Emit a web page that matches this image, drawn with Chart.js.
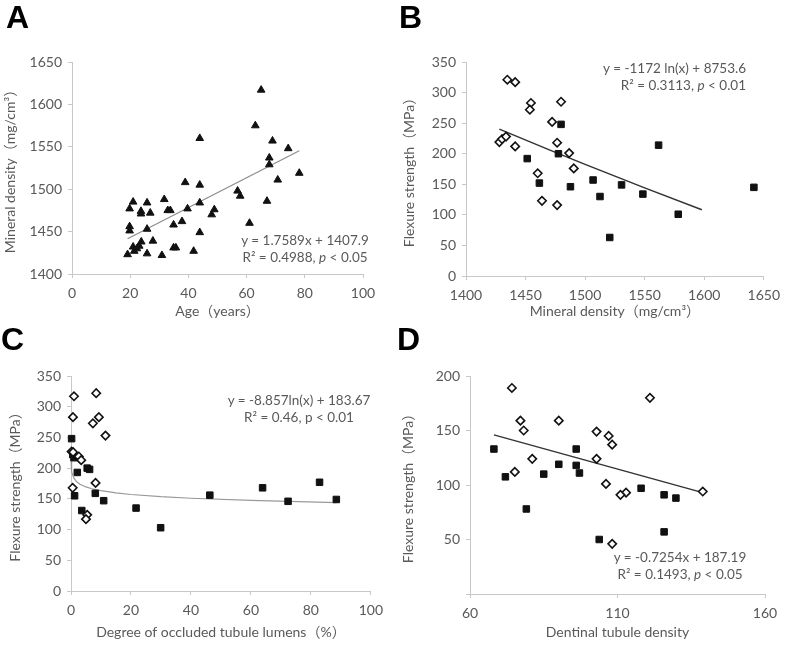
<!DOCTYPE html>
<html>
<head>
<meta charset="utf-8">
<script src="https://cdn.jsdelivr.net/npm/chart.js@4.4.0/dist/chart.umd.min.js"></script>
<style>
  body { margin: 0; background: #fff; width: 787px; height: 645px; position: relative; overflow: hidden; }
  .panel { position: absolute; }
  .letter { position: absolute; font: bold 32px "Liberation Sans", Arial, sans-serif; line-height: 32px; color: #000; }
  .note { position: absolute; font: 13.5px Lato, "Noto Sans CJK SC", sans-serif; line-height: 17px; color: #595959; white-space: nowrap; text-align: center; }
</style>
</head>
<body>

<canvas class="panel" id="chartA" width="390" height="320" style="left:0;top:0"></canvas>
<canvas class="panel" id="chartB" width="397" height="320" style="left:390px;top:0"></canvas>
<canvas class="panel" id="chartC" width="390" height="325" style="left:0;top:320px"></canvas>
<canvas class="panel" id="chartD" width="397" height="325" style="left:390px;top:320px"></canvas>

<div class="letter" style="left:6px;top:1px">A</div>
<div class="letter" style="left:399px;top:1px">B</div>
<div class="letter" style="left:1px;top:323px">C</div>
<div class="letter" style="left:397px;top:323px">D</div>

<div class="note" style="left:236px;top:232px;width:138px">y = 1.7589x + 1407.9<br>R² = 0.4988, <i>p</i> &lt; 0.05</div>
<div class="note" style="left:590px;top:60px;width:156px;text-align:right">y = -1172 ln(x) + 8753.6<br>R² = 0.3113, <i>p</i> &lt; 0.01</div>
<div class="note" style="left:222px;top:392px;width:154px">y = -8.857ln(x) + 183.67<br>R² = 0.46, p &lt; 0.01</div>
<div class="note" style="left:600px;top:549px;width:160px">y = -0.7254x + 187.19<br>R² = 0.1493, <i>p</i> &lt; 0.05</div>

<script>
// ---------------------------------------------------------------------------
// DATA
// ---------------------------------------------------------------------------

// A: age vs mineral density
const ageA = [65, 63, 68.9, 67.8, 67.8, 70.7, 67, 43.9, 38.9, 43.9, 56.9, 57.8, 61, 43.9, 39.7,
  48.9, 48, 43.9, 41.8, 37.8, 34.9, 31.7, 32.9, 33.8, 34.9, 35.7, 30.9, 27.8, 25.8, 25.8, 26.9,
  23.7, 23.7, 21, 19.8, 19.8, 19.8, 19.1, 21, 21.4, 22.3, 23.1, 23.8, 25.8, 74.3, 78.1];
const densityA = [1617, 1575, 1557, 1537, 1529, 1511, 1486, 1560, 1508, 1505, 1498, 1492, 1460, 1484, 1477,
  1476, 1470, 1449, 1427, 1462, 1458, 1488, 1475, 1475, 1431, 1431, 1422, 1439, 1453, 1484, 1472,
  1474, 1471, 1485, 1477, 1456, 1451, 1423, 1432, 1427, 1430, 1433, 1438, 1424, 1548, 1519];
const trendAx = [19.1, 78.1];
const trendAy = [1441.5, 1545.3];

// B: mineral density vs flexure strength
const densityBOpen = [1434.7, 1441.3, 1454.5, 1453.6, 1479.8, 1472.3, 1428, 1430.3, 1433.6, 1441.3,
  1476.5, 1486.6, 1490.5, 1460.2, 1463.8, 1476.5];
const strengthBOpen = [321, 317, 283, 272, 285, 252, 219, 224, 228, 212, 218, 201, 176, 168, 123, 116];
const densityBSolid = [1479.8, 1451.4, 1477.6, 1461.6, 1487.7, 1506.7, 1512.5, 1530.6, 1520.7,
  1548.5, 1561.7, 1578.2, 1641.7];
const strengthBSolid = [248, 192, 200, 152, 146, 157, 130, 149, 63, 134, 214, 101, 145];
const trendBx = [1428, 1470, 1500, 1550, 1598];
const trendBy = [240.2, 206.2, 182.5, 144.1, 108.3];

// C: degree of occluded tubule lumens vs flexure strength
const occludedCOpen = [1.0, 8.4, 0.66, 9.3, 7.3, 11.5, 0.2, 0.7, 2.6, 3.4, 0.55, 8.2, 5.4, 5.0];
const strengthCOpen = [317, 322, 283, 283, 273, 253, 227, 226, 219, 213, 168, 176, 124, 117];
const occludedCSolid = [0.2, 1.0, 0.6, 2.1, 5.4, 6.2, 1.2, 8.1, 10.9, 3.6, 21.7, 29.9, 46.3, 63.9, 72.4, 82.9, 88.5];
const strengthCSolid = [248, 217, 222, 193, 200, 198, 155, 159, 147, 131, 135, 103, 156, 168, 146, 177, 149];
const trendCx = [0.03, 0.1, 0.3, 0.6, 1, 1.5, 2, 3, 5, 7, 10, 15, 20, 30, 40, 60, 88.5];
const trendCy = [214.7, 204.1, 194.3, 188.2, 183.7, 180.1, 177.5, 173.9, 169.4, 166.4, 163.3, 159.7,
  157.1, 153.5, 151.0, 147.4, 144.0];

// D: dentinal tubule density vs flexure strength
const tubuleDOpen = [74.2, 121, 77.1, 90.1, 78.2, 102.9, 107, 108.2, 81.1, 102.9, 75.2, 106.1, 112.9, 111, 138.9, 108.2];
const strengthDOpen = [189, 180, 159, 159, 150, 149, 145, 137, 124, 124, 112, 101, 93, 91, 94, 46];
const tubuleDSolid = [68.1, 96, 90.1, 96, 97.1, 85, 72, 118, 125.8, 129.8, 79.1, 125.8, 103.8];
const strengthDSolid = [133, 133, 119, 118, 111, 110, 107.5, 97, 91, 88, 78, 57, 50];
const trendDx = [68.1, 138.9];
const trendDy = [146, 93];

// ---------------------------------------------------------------------------
// STYLE
// ---------------------------------------------------------------------------
const FONT = 'Lato, "Noto Sans CJK SC", sans-serif';
const TEXT_COLOR = '#595959';
const AXIS_COLOR = '#c8c8c8';

function zip(xs, ys) {
  return xs.map((x, i) => ({ x: x, y: ys[i] }));
}

function markerSet(xs, ys, style) {
  const open = style === 'rectRot';
  return {
    data: zip(xs, ys),
    pointStyle: style,
    pointRadius: style === 'rect' ? 4.6 : (style === 'triangle' ? 4.4 : 4.2),
    pointBackgroundColor: open ? '#ffffff' : '#111111',
    pointBorderColor: '#111111',
    pointBorderWidth: open ? 1.6 : 1,
    showLine: false,
    clip: false
  };
}

function trendSet(xs, ys, color, width) {
  return {
    data: zip(xs, ys),
    showLine: true,
    borderColor: color,
    borderWidth: width,
    pointRadius: 0,
    tension: 0,
    fill: false,
    clip: false
  };
}

function axisConfig(min, max, step, title, titlePad, boxSize, isY, hideZero) {
  return {
    type: 'linear',
    min: min,
    max: max,
    border: { display: true, color: AXIS_COLOR, width: 1 },
    grid: { display: true, drawOnChartArea: false, drawTicks: true, tickLength: 4, color: AXIS_COLOR },
    ticks: {
      stepSize: step,
      padding: isY ? 6 : 7,
      color: TEXT_COLOR,
      font: { family: FONT, size: 14 },
      maxRotation: 0,
      autoSkip: false,
      // panel D shows no "0" label on its y axis
      callback: v => (hideZero && v === 0) ? '' : String(v)
    },
    title: {
      display: true,
      text: title,
      color: TEXT_COLOR,
      font: { family: FONT, size: 14 },
      padding: isY ? { top: titlePad, bottom: 0 } : { top: 0, bottom: titlePad }
    },
    afterFit: function(scale) {
      if (isY) scale.width = boxSize;
      else scale.height = boxSize;
    }
  };
}

function makeChart(id, datasets, padding, xAxis, yAxis) {
  return new Chart(document.getElementById(id), {
    type: 'scatter',
    data: { datasets: datasets },
    options: {
      responsive: false,
      animation: false,
      layout: { padding: padding },
      plugins: { legend: { display: false }, tooltip: { enabled: false } },
      scales: { x: xAxis, y: yAxis }
    }
  });
}

// ---------------------------------------------------------------------------
// CHARTS
// ---------------------------------------------------------------------------
makeChart('chartA',
  [markerSet(ageA, densityA, 'triangle'), trendSet(trendAx, trendAy, '#8c8c8c', 1.2)],
  { left: 0, top: 62, right: 27, bottom: 0 },
  axisConfig(0, 100, 20, 'Age（years）', 0, 46, false),
  axisConfig(1400, 1650, 50, 'Mineral density（mg/cm³）', 2, 72, true));

makeChart('chartB',
  [markerSet(densityBOpen, strengthBOpen, 'rectRot'), markerSet(densityBSolid, strengthBSolid, 'rect'),
   trendSet(trendBx, trendBy, '#333333', 1.5)],
  { left: 0, top: 62, right: 19, bottom: 0 },
  axisConfig(1400, 1650, 50, 'Mineral density（mg/cm³）', 0, 44, false),
  axisConfig(0, 350, 50, 'Flexure strength（MPa）', 11, 76, true));

makeChart('chartC',
  [markerSet(occludedCOpen, strengthCOpen, 'rectRot'), markerSet(occludedCSolid, strengthCSolid, 'rect'),
   trendSet(trendCx, trendCy, '#999999', 1.2)],
  { left: 0, top: 56, right: 15, bottom: 0 },
  axisConfig(0, 100, 20, 'Degree of occluded tubule lumens（%）', 4, 54, false),
  axisConfig(0, 350, 50, 'Flexure strength（MPa）', 7, 71, true));

makeChart('chartD',
  [markerSet(tubuleDOpen, strengthDOpen, 'rectRot'), markerSet(tubuleDSolid, strengthDSolid, 'rect'),
   trendSet(trendDx, trendDy, '#333333', 1.5)],
  { left: 0, top: 56, right: 22, bottom: 0 },
  axisConfig(60, 160, 50, 'Dentinal tubule density', 4, 51, false),
  axisConfig(0, 200, 50, 'Flexure strength（MPa）', 10, 80, true, true));
</script>
</body>
</html>
